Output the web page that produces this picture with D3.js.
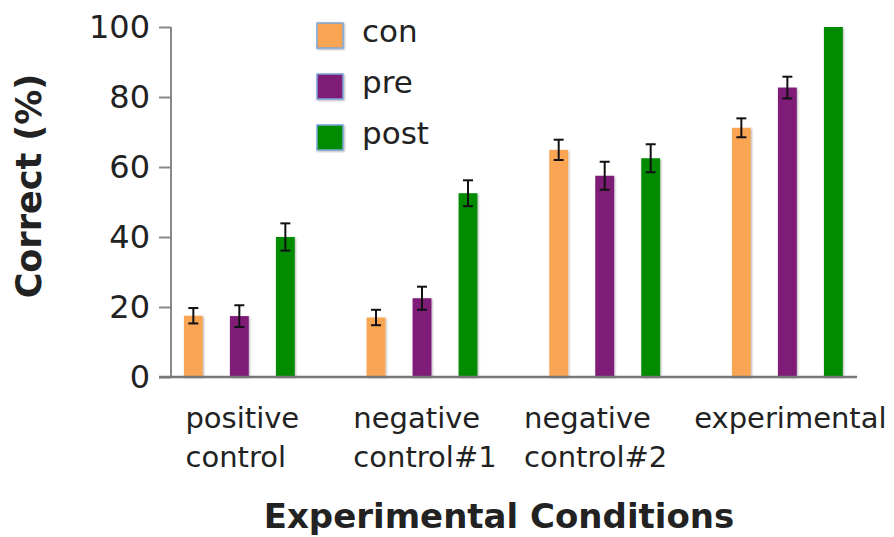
<!DOCTYPE html>
<html>
<head>
<meta charset="utf-8">
<script src="https://cdn.jsdelivr.net/npm/d3@7"></script>
<style>
  body { margin: 0; background: #fff; }
  text { font-family: "DejaVu Sans", Verdana, sans-serif; fill: #222; }
</style>
</head>
<body>
<svg id="plot"></svg>
<script>
const W = 894, H = 537;

// data
const categories = ["positive control", "negative control#1", "negative control#2", "experimental"];
const catLines = [["positive", "control"], ["negative", "control#1"], ["negative", "control#2"], ["experimental"]];
const seriesNames = ["con", "pre", "post"];
const conVals = [17.5, 17.0, 64.9, 71.2];
const preVals = [17.4, 22.5, 57.5, 82.7];
const postVals = [40.0, 52.5, 62.5, 100];
const conErr = [2.2, 2.2, 2.9, 2.7];
const preErr = [3.1, 3.3, 4.0, 3.1];
const postErr = [3.9, 3.7, 4.0, 0];
const yTicks = [0, 20, 40, 60, 80, 100];
const colors = ["#f9a553", "#7e1a78", "#008b00"];

const values = [conVals, preVals, postVals];
const errs = [conErr, preErr, postErr];

const svg = d3.select("#plot").attr("width", W).attr("height", H);

// soft shadow like the original export
const defs = svg.append("defs");
defs.append("filter").attr("id", "shadow")
  .attr("x", "-30%").attr("y", "-10%").attr("width", "160%").attr("height", "120%")
  .append("feDropShadow")
  .attr("dx", 1).attr("dy", 1).attr("stdDeviation", 1)
  .attr("flood-color", "#000").attr("flood-opacity", 0.3);

const axisX = 171, yTop = 27, yBottom = 377;

const y = d3.scaleLinear().domain([0, 100]).range([yBottom, yTop]);

const x0 = d3.scaleBand().domain(categories).range([148, 878.7]);
const x1 = d3.scaleBand().domain(seriesNames).range([-69, 69]).paddingInner(0.59).paddingOuter(0.295);

// bars
const groups = svg.selectAll(".grp")
  .data(categories)
  .join("g")
  .attr("class", "grp")
  .attr("transform", (d) => `translate(${x0(d) + x0.bandwidth() / 2},0)`);

groups.each(function (cat, ci) {
  const g = d3.select(this);
  seriesNames.forEach((s, si) => {
    const v = values[si][ci];
    const e = errs[si][ci];
    g.append("rect")
      .attr("x", x1(s))
      .attr("width", x1.bandwidth())
      .attr("y", y(v))
      .attr("height", y(0) - y(v))
      .attr("fill", colors[si])
      .attr("filter", "url(#shadow)");
    if (e > 0) {
      const cx = x1(s) + x1.bandwidth() / 2;
      const eg = g.append("g").attr("stroke", "#111").attr("stroke-width", 2);
      eg.append("line").attr("x1", cx).attr("x2", cx).attr("y1", y(v + e)).attr("y2", y(v - e));
      eg.append("line").attr("x1", cx - 5).attr("x2", cx + 5).attr("y1", y(v + e)).attr("y2", y(v + e));
      eg.append("line").attr("x1", cx - 5).attr("x2", cx + 5).attr("y1", y(v - e)).attr("y2", y(v - e));
    }
  });
});

// y axis
const yAxis = svg.append("g")
  .attr("transform", `translate(${axisX},0)`)
  .call(d3.axisLeft(y).tickValues(yTicks).tickSize(12).tickPadding(9));
yAxis.select(".domain").attr("stroke", "#888").attr("stroke-width", 2).attr("d", `M0,${yTop}V${yBottom}`);
yAxis.selectAll(".tick line").attr("stroke", "#888").attr("stroke-width", 2);
yAxis.selectAll(".tick text")
  .attr("font-size", 32)
  .attr("font-family", "DejaVu Sans, sans-serif")
  .attr("fill", "#222");

// x axis baseline
svg.append("line")
  .attr("x1", axisX - 12).attr("x2", 857)
  .attr("y1", y(0)).attr("y2", y(0))
  .attr("stroke", "#777").attr("stroke-width", 2.5);

// category labels, left-aligned block roughly centred on each group
categories.forEach((cat, ci) => {
  const t = svg.append("text").attr("font-size", 29);
  catLines[ci].forEach((ln, li) => {
    t.append("tspan").attr("x", 0).attr("y", 428 + li * 38.5).text(ln);
  });
  const w = t.node().getBBox().width;
  const cx = x0(cat) + x0.bandwidth() / 2;
  const nudge = ci === 2 ? -9 : 3; // the third label sits a bit left in the original
  t.attr("transform", `translate(${cx - w / 2 + nudge},0)`);
});

// axis titles
svg.append("text")
  .attr("x", 499).attr("y", 528)
  .attr("text-anchor", "middle")
  .attr("font-size", 34).attr("font-weight", "bold").attr("fill", "#111")
  .text("Experimental Conditions");

svg.append("text")
  .attr("transform", `translate(41,186) rotate(-90)`)
  .attr("text-anchor", "middle")
  .attr("font-size", 35).attr("font-weight", "bold").attr("fill", "#111")
  .text("Correct (%)");

// legend
const legend = svg.append("g").attr("transform", "translate(317,23)");
seriesNames.forEach((s, i) => {
  const lg = legend.append("g").attr("transform", `translate(0,${i * 51})`);
  lg.append("rect")
    .attr("width", 26).attr("height", 25)
    .attr("fill", colors[i])
    .attr("stroke", "#7ba7d8").attr("stroke-width", 1.5)
    .attr("filter", "url(#shadow)");
  lg.append("text")
    .attr("x", 45).attr("y", 19)
    .attr("font-size", 31)
    .text(s);
});
</script>
</body>
</html>
